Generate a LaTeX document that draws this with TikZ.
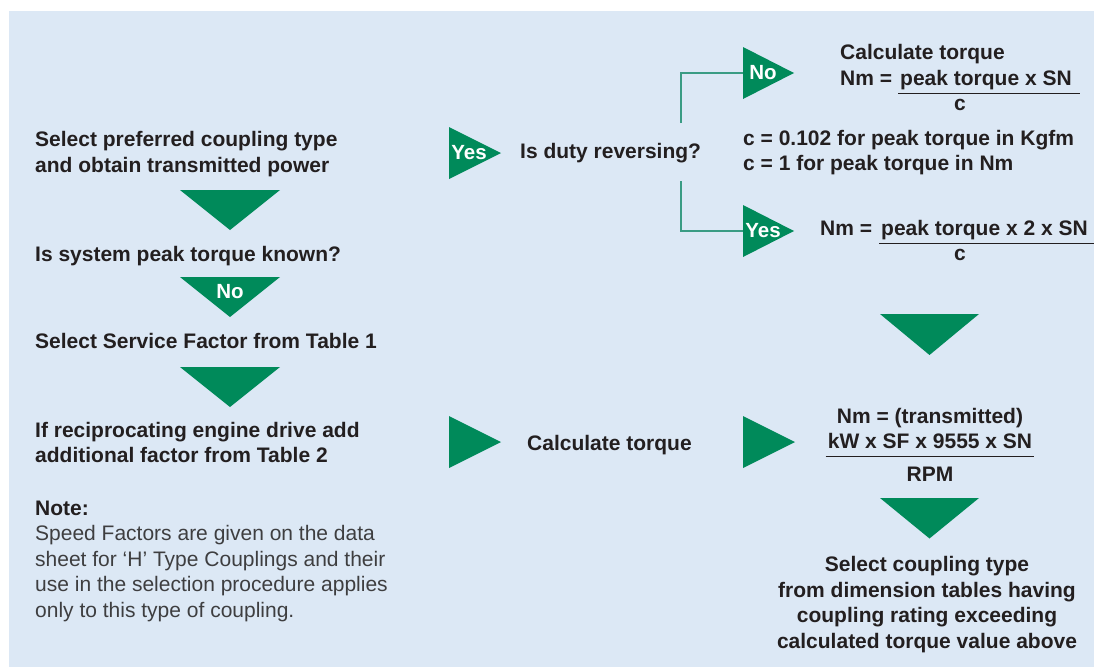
\documentclass[tikz,border=0pt]{standalone}
\usepackage{fontspec}
\setmainfont{Liberation Sans}
\usepackage{xcolor}
\usepackage{tikz}

\definecolor{panel}{RGB}{220,232,245}
\definecolor{flowgreen}{RGB}{0,138,90}
\definecolor{inkdark}{RGB}{35,31,32}
\definecolor{notegrey}{RGB}{62,62,64}
\definecolor{forkline}{RGB}{58,156,132}

\begin{document}
\begin{tikzpicture}[x=1pt,y=1pt,yscale=-1,xscale=1,
  txt/.style={anchor=base west,inner sep=0pt,text=inkdark,align=left,
    font=\fontsize{21}{25.5}\selectfont\bfseries},
  ctxt/.style={txt,anchor=base,align=center},
  notetxt/.style={txt,font=\fontsize{21}{25.5}\selectfont,text=notegrey},
  tag/.style={inner sep=0pt,text=white,font=\fontsize{20.5}{24}\selectfont\bfseries},
  pointer/.style={fill=flowgreen},
  fork/.style={draw=forkline,line width=1.5pt},
  bar/.style={draw=inkdark,line width=1.5pt}]

\useasboundingbox (0,0) rectangle (1094,667);
\fill[white] (0,0) rectangle (1094,667);
\fill[panel] (9,11) rectangle (1094,667);

% left column
\node[txt] (prefer) at (35,172) {Select preferred coupling type\\and obtain transmitted power};

\fill[pointer] (180,190) -- (280,190) -- (230,230) -- cycle;

\node[txt] (known) at (35,261) {Is system peak torque known?};

\fill[pointer] (180,277) -- (280,277) -- (230,317) -- cycle;
\node[tag] (noknown) at (230,292) {No};

\node[txt] (service) at (35,348) {Select Service Factor from Table 1};

\fill[pointer] (180,367) -- (280,367) -- (230,407) -- cycle;

\node[txt] (recip) at (35,462.7) {If reciprocating engine drive add\\additional factor from Table 2};

\node[notetxt] (note) at (35,617) {\textcolor{inkdark}{\bfseries Note:}\\Speed Factors are given on the data\\sheet for ‘H’ Type Couplings and their\\use in the selection procedure applies\\only to this type of coupling.};

% middle
\fill[pointer] (449,127) -- (449,179) -- (501,153) -- cycle;
\node[tag] (yesknown) at (469,153) {Yes};

\node[txt] (duty) at (520,158) {Is duty reversing?};

\coordinate (forkup) at (681,123);
\coordinate (forkdn) at (681,181);
\coordinate (noin) at (743,73);
\coordinate (yesin) at (743,231);
\draw[fork] (forkup) |- (noin);
\draw[fork] (forkdn) |- (yesin);

\fill[pointer] (743,47) -- (743,99) -- (794,73) -- cycle;
\node[tag] (norev) at (763,73) {No};
\fill[pointer] (743,205) -- (743,257) -- (794,231) -- cycle;
\node[tag] (yesrev) at (763,231) {Yes};

% right column, top
\node[txt] (calcpeak) at (840,59) {Calculate torque};
\node[txt] (nmone) at (840,85) {Nm =};
\node[txt,inner xsep=2pt] (numone) at (898,85) {peak torque x SN};
\draw[bar] ([yshift=8.3pt]numone.base west) -- ([xshift=6pt,yshift=8.3pt]numone.base east);
\node[ctxt] (cone) at (960,110) {c};

\node[txt] (cvalues) at (743,170.7) {c = 0.102 for peak torque in Kgfm\\c = 1 for peak torque in Nm};

\node[txt] (nmtwo) at (820,235) {Nm =};
\node[txt,inner xsep=2pt] (numtwo) at (879,235) {peak torque x 2 x SN};
\draw[bar] ([yshift=8.3pt]numtwo.base west) -- ([xshift=6pt,yshift=8.3pt]numtwo.base east);
\node[ctxt] (ctwo) at (960,260) {c};

\fill[pointer] (880,314) -- (979,314) -- (929.5,355) -- cycle;

% bottom row
\fill[pointer] (449,416) -- (449,468) -- (501,442) -- cycle;
\node[txt] (calcpower) at (527,450) {Calculate torque};
\fill[pointer] (743,416) -- (743,468) -- (795,442) -- cycle;

\node[ctxt] (nmthree) at (930,423) {Nm = (transmitted)};
\node[ctxt,inner xsep=2pt] (numthree) at (930,448.3) {kW x SF x 9555 x SN};
\draw[bar] ([yshift=8.3pt]numthree.base west) -- ([yshift=8.3pt]numthree.base east);
\node[ctxt] (rpm) at (930,481.7) {RPM};

\fill[pointer] (880,498) -- (979,498) -- (929.5,538.5) -- cycle;

\node[ctxt] (choose) at (927,648.3) {Select coupling type\\from dimension tables having\\coupling rating exceeding\\calculated torque value above};

\end{tikzpicture}
\end{document}
